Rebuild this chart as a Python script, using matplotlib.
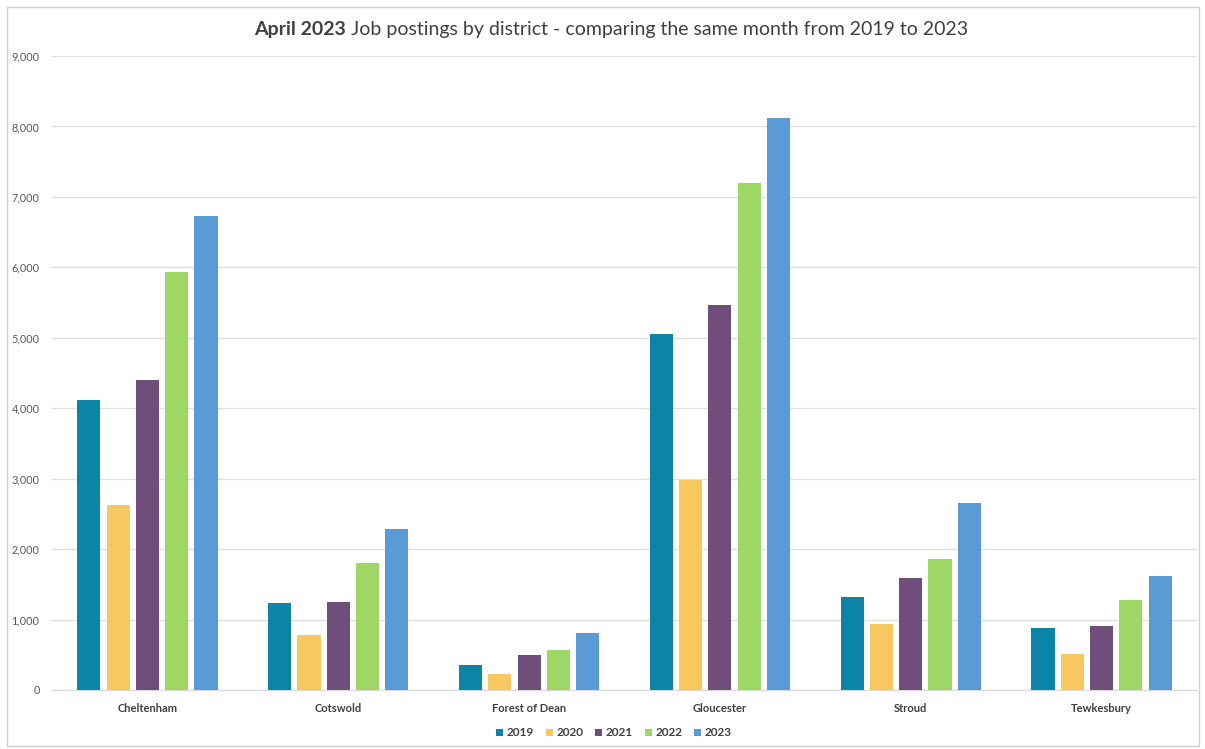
import matplotlib
matplotlib.use("Agg")
import matplotlib.pyplot as plt
import numpy as np
from matplotlib.patches import Rectangle

districts = ["Cheltenham", "Cotswold", "Forest of Dean", "Gloucester", "Stroud", "Tewkesbury"]
years = ["2019", "2020", "2021", "2022", "2023"]
v2019 = [4120, 1236, 355, 5057, 1321, 881]
v2020 = [2628, 781, 227, 2983, 938, 511]
v2021 = [4403, 1250, 497, 5469, 1591, 909]
v2022 = [5937, 1804, 568, 7202, 1861, 1278]
v2023 = [6733, 2287, 810, 8125, 2656, 1619]
series = [v2019, v2020, v2021, v2022, v2023]
colors = ["#0b84a5", "#f6c85f", "#6f4e7c", "#9dd866", "#5b9bd5"]
yticks = [0, 1000, 2000, 3000, 4000, 5000, 6000, 7000, 8000, 9000]

plt.rcParams['font.family'] = ['Lato', 'DejaVu Sans']
W, H = 1205, 749
fig = plt.figure(figsize=(W/100, H/100), dpi=100)
fig.patch.set_facecolor("white")
# outer border
fig.add_artist(Rectangle((7/W, 1 - 746/H), (1199-7)/W, (746-7)/H, transform=fig.transFigure,
                         fill=False, edgecolor="#d0d0d0", linewidth=1))

left, right, top, bottom = 52, 1197, 56, 690
ax = fig.add_axes([left/W, 1 - bottom/H, (right-left)/W, (bottom-top)/H])
x = np.arange(len(districts))
bw = 0.121
step = 0.1535
for i, (vals, c) in enumerate(zip(series, colors)):
    ax.bar(x + (i - 2) * step, vals, width=bw, color=c, label=years[i], zorder=3)

ax.set_xlim(-0.5, len(districts) - 0.5)
ax.set_ylim(0, 9000)
ax.set_yticks(yticks)
ax.set_yticklabels([f"{t:,}" for t in yticks])
ax.set_xticks(x)
ax.set_xticklabels(districts, fontsize=8, color="#404040", fontweight="bold")
ax.tick_params(axis='y', labelsize=7.8, labelcolor="#595959", length=0, pad=9)
ax.tick_params(axis='x', length=0, pad=9)
ax.grid(axis='y', color="#e0e0e0", linewidth=1, zorder=0)
for s in ["top", "right", "left"]:
    ax.spines[s].set_visible(False)
ax.spines["bottom"].set_color("#d9d9d9")

t1 = fig.text(254/W, 1 - 29/H, "April 2023", fontsize=14, fontweight="bold", color="#404040",
              va="center", ha="left")
fig.canvas.draw()
bb = t1.get_window_extent()
fig.text(bb.x1/W + 0.004, 1 - 29/H, "Job postings by district - comparing the same month from 2019 to 2023",
         fontsize=14, color="#404040", va="center", ha="left")

leg = fig.legend(loc="center", bbox_to_anchor=(614/W, 1 - 733/H), ncol=5, frameon=False,
                 fontsize=8.5, handlelength=0.6, handleheight=0.6, handletextpad=0.3, columnspacing=1.0)
for t in leg.get_texts():
    t.set_color("#404040")
    t.set_fontweight("bold")

fig.savefig("out.png", dpi=100, facecolor="white")
